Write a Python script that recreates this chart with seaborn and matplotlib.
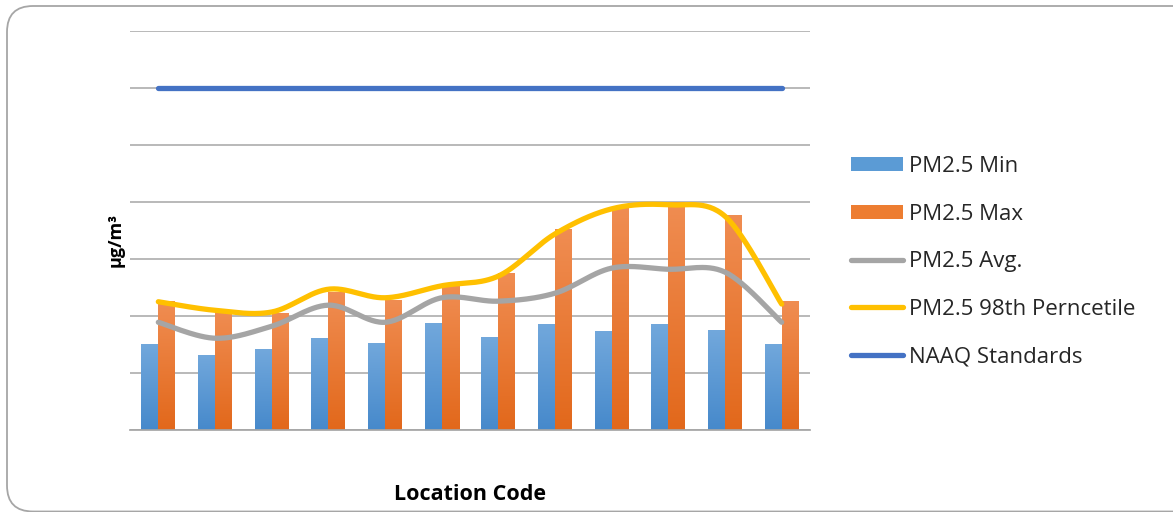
import numpy as np
import pandas as pd
import matplotlib
matplotlib.use("Agg")
import matplotlib.pyplot as plt
import seaborn as sns
from matplotlib.patches import FancyBboxPatch, Patch
from matplotlib.lines import Line2D
from matplotlib.colors import LinearSegmentedColormap
from matplotlib.transforms import IdentityTransform

locations = [f"L{i}" for i in range(1, 13)]
pm_min = [15.1, 13.2, 14.2, 16.1, 15.3, 18.8, 16.3, 18.6, 17.4, 18.6, 17.5, 15.1]
pm_max = [22.6, 20.9, 20.5, 24.2, 22.8, 25.4, 27.5, 35.3, 39.3, 40.0, 37.7, 22.6]
pm_avg = [18.9, 16.1, 18.2, 21.9, 18.9, 23.2, 22.6, 24.0, 28.4, 28.2, 27.7, 18.9]
pm_p98 = [22.5, 21.0, 20.7, 24.7, 23.2, 25.3, 27.0, 34.4, 38.8, 39.5, 37.5, 22.1]
naaq = [60] * 12
labels = ["PM2.5 Min", "PM2.5 Max", "PM2.5 Avg.", "PM2.5 98th Perncetile", "NAAQ Standards"]

c_min, c_max, c_avg, c_p98, c_naaq = "#5B9BD5", "#ED7D31", "#A5A5A5", "#FFC000", "#4472C4"
grad_min = ("#72A8DC", "#4689CB")
grad_max = ("#F08D52", "#E2681B")

sns.set_theme(style="white")
plt.rcParams['font.family'] = ['Open Sans', 'DejaVu Sans']

fig = plt.figure(figsize=(11.73, 5.12), dpi=100)
W, H = 1173, 512
ax = fig.add_axes([130 / W, (512 - 430) / H, 680 / W, 399 / H])

df = pd.DataFrame({"loc": locations * 2,
                   "val": pm_min + pm_max,
                   "kind": ["Min"] * 12 + ["Max"] * 12})
sns.barplot(data=df, x="loc", y="val", hue="kind", palette=[c_min, c_max],
            width=0.6, ax=ax, legend=False, saturation=1, gap=0, linewidth=0)

ax.set_xlim(-0.5, 11.5)
ax.set_ylim(0, 70)

# gradient fill for bars
cm_min = LinearSegmentedColormap.from_list("gmin", [grad_min[1], grad_min[0]])
cm_max = LinearSegmentedColormap.from_list("gmax", [grad_max[1], grad_max[0]])
for p in list(ax.patches):
    fc = matplotlib.colors.to_hex(p.get_facecolor())
    cmap = cm_min if fc.lower() == c_min.lower() else cm_max
    x0, y0 = p.get_x(), p.get_y()
    w, h = p.get_width(), p.get_height()
    grad = np.linspace(0, 1, 256)[:, None]
    im = ax.imshow(grad, cmap=cmap, extent=[x0, x0 + w, y0, y0 + h], origin="lower",
                   aspect="auto", zorder=p.get_zorder() + 0.01)
    im.set_clip_path(p)
ax.set_xlim(-0.5, 11.5)
ax.set_ylim(0, 70)


def smooth(y, n=30):
    y = np.asarray(y, float)
    x = np.arange(len(y), dtype=float)
    P = np.column_stack([x, y])
    Pp = np.vstack([P[0], P, P[-1]])
    out = []
    for i in range(1, len(Pp) - 2):
        p0, p1, p2, p3 = Pp[i - 1], Pp[i], Pp[i + 1], Pp[i + 2]
        t = np.linspace(0, 1, n, endpoint=False)[:, None]
        b1 = p1 + (p2 - p0) / 6
        b2 = p2 - (p3 - p1) / 6
        pts = ((1 - t) ** 3) * p1 + 3 * ((1 - t) ** 2) * t * b1 + 3 * (1 - t) * t ** 2 * b2 + t ** 3 * p2
        out.append(pts)
    out.append(P[-1][None, :])
    out = np.vstack(out)
    return out[:, 0], out[:, 1]


for vals, col in [(pm_avg, c_avg), (pm_p98, c_p98)]:
    sx, sy = smooth(vals)
    sns.lineplot(x=sx, y=sy, color=col, lw=3.8, ax=ax, sort=False,
                 solid_capstyle="round", estimator=None, zorder=5)
sns.lineplot(x=np.arange(12), y=naaq, color=c_naaq, lw=3.8, ax=ax,
             solid_capstyle="round", zorder=5)

ax.set_yticks(np.arange(0, 71, 10))
ax.yaxis.grid(True, color="#A6A6A6", lw=1.1)
ax.set_axisbelow(True)
ax.set_yticklabels([])
ax.set_xticklabels([])
ax.tick_params(length=0)
for s in ["top", "right", "left"]:
    ax.spines[s].set_visible(False)
ax.spines["bottom"].set_color("#A6A6A6")
ax.set_xlabel("")
ax.set_ylabel("")

fig.text(470 / W, 1 - 494 / H, "Location Code", ha="center", va="center",
         fontsize=15.5, fontweight="bold", color="#000000")
fig.text(116 / W, 1 - 240 / H, "µg/m³", ha="center", va="center", rotation=90,
         fontsize=13, fontweight="bold", color="#000000")

handles = [Patch(facecolor=c_min, edgecolor="none"),
           Patch(facecolor=c_max, edgecolor="none"),
           Line2D([], [], color=c_avg, lw=3.8, solid_capstyle="round"),
           Line2D([], [], color=c_p98, lw=3.8, solid_capstyle="round"),
           Line2D([], [], color=c_naaq, lw=3.8, solid_capstyle="round")]
fig.legend(handles, labels, loc="upper left", bbox_to_anchor=(831 / W, 1 - 136 / H),
           frameon=False, fontsize=16, handlelength=2.35, handleheight=0.62,
           labelspacing=1.2, handletextpad=0.28, labelcolor="#262626")

frame = FancyBboxPatch((7, 0.5), 1250, 505.5,
                       boxstyle="round,pad=0,rounding_size=26",
                       transform=IdentityTransform(), facecolor="none",
                       edgecolor="#A6A6A6", lw=1.3, clip_on=False)
fig.patches.append(frame)

fig.savefig("out.png", dpi=100)
